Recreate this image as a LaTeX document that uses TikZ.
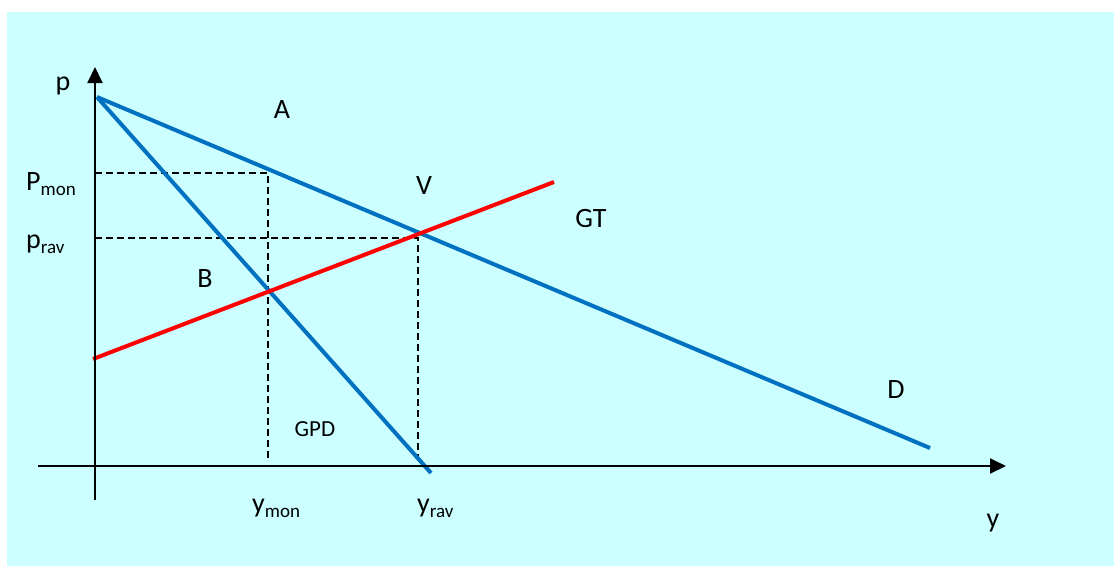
\documentclass[tikz,border=0pt]{standalone}
\usepackage{fontspec}
\setmainfont{Carlito}
\usetikzlibrary{arrows.meta}
\definecolor{bgcyan}{HTML}{CCFFFF}
\definecolor{dblue}{HTML}{0070C0}
\newcommand{\bigtxt}{\fontsize{28}{32}\selectfont}
\newcommand{\subtxt}[1]{\raisebox{-5pt}{\fontsize{19}{22}\selectfont #1}}
\begin{document}
\begin{tikzpicture}[x=1pt,y=-1pt,
  lbl/.style={font=\bigtxt, inner sep=0pt, anchor=base},
  smalllbl/.style={font=\fontsize{23}{26}\selectfont, inner sep=0pt, anchor=base},
  axis/.style={line width=2pt, -{Triangle[length=16pt,width=15pt]}},
  bluel/.style={line width=4pt, draw=dblue},
  redl/.style={line width=4pt, draw=red},
  guide/.style={line width=1.6pt, dash pattern=on 7pt off 4pt}]
\useasboundingbox (0,0) rectangle (1114,566);
\fill[white] (0,0) rectangle (1114,566);
\fill[bgcyan] (7,12) rectangle (1114,566);
% axes
\coordinate (yb) at (95,500);
\coordinate (yt) at (95,67);
\coordinate (xl) at (38,466);
\coordinate (xr) at (1006,466);
% curves
\coordinate (top) at (97,97);
\coordinate (dend) at (930,448);
\coordinate (gpdend) at (431,473);
\coordinate (gts) at (93,359);
\coordinate (gte) at (554,182);
% guides
\coordinate (pm) at (95,173);
\coordinate (ymb) at (268,461);
\coordinate (pr) at (95,238);
\coordinate (yrb) at (418,464);
\draw[guide] (pm) -| (ymb);
\draw[guide] (pr) -| (yrb);
\draw[bluel] (top) -- (dend);
\draw[bluel] (top) -- (gpdend);
\draw[redl] (gts) -- (gte);
\draw[axis] (yb) -- (yt);
\draw[axis] (xl) -- (xr);
% labels
\node[lbl] (lp) at (63,90) {p};
\node[lbl] (lA) at (282,118) {A};
\node[lbl] (lV) at (424,194) {V};
\node[lbl] (lGT) at (591,227) {GT};
\node[lbl] (lB) at (205,287) {B};
\node[lbl] (lD) at (896,398) {D};
\node[smalllbl] (lGPD) at (315,436) {GPD};
\node[lbl, anchor=base west] (lym) at (252,512) {y\subtxt{mon}};
\node[lbl, anchor=base west] (lyr) at (417,512) {y\subtxt{rav}};
\node[lbl] (ly) at (993,527) {y};
\node[lbl, anchor=base west] (lpm) at (26,190) {P\subtxt{mon}};
\node[lbl, anchor=base west] (lpr) at (26,248) {p\subtxt{rav}};
\end{tikzpicture}
\end{document}
